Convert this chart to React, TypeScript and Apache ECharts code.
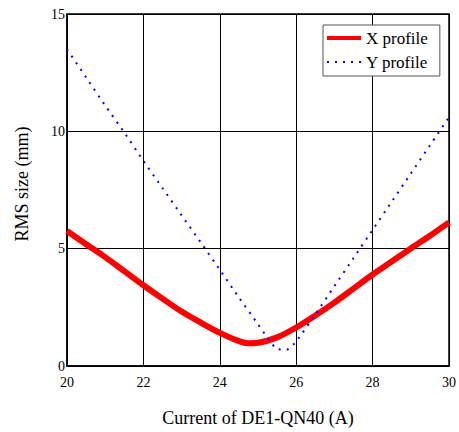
import React, { useEffect, useRef } from "react";
import * as echarts from "echarts";

const xProfileX = [20, 20.5, 21, 21.5, 22, 22.5, 23, 23.5, 24, 24.5, 24.75, 25, 25.5, 26, 26.5, 27, 27.5, 28, 28.5, 29, 29.5, 30];
const xProfileY = [5.75, 5.19, 4.64, 4.04, 3.44, 2.87, 2.32, 1.85, 1.41, 1.06, 0.97, 0.99, 1.22, 1.64, 2.15, 2.7, 3.3, 3.9, 4.45, 5.01, 5.55, 6.12];

const yProfileX = [20, 20.5, 21, 21.5, 22, 22.5, 23, 23.5, 24, 24.5, 25, 25.25, 25.5, 25.75, 26, 26.5, 27, 27.5, 28, 28.5, 29, 29.5, 30];
const yProfileY = [13.5, 12.3, 11.1, 9.95, 8.74, 7.58, 6.42, 5.27, 4.1, 2.92, 1.78, 1.2, 0.72, 0.7, 1.05, 2.2, 3.4, 4.6, 5.8, 7.0, 8.2, 9.4, 10.6];

const seriesNames = ["X profile", "Y profile"];
const xTitle = "Current of DE1-QN40 (A)";
const yTitle = "RMS size (mm)";

const FONT = "Times New Roman, Liberation Serif, serif";

export default function App() {
  const ref = useRef<HTMLDivElement>(null);
  useEffect(() => {
    if (!ref.current) return;
    const chart = echarts.init(ref.current, null, { renderer: "svg" });
    chart.setOption({
      animation: false,
      backgroundColor: "#fff",
      textStyle: { fontFamily: FONT },
      grid: {
        left: 67,
        right: 9,
        top: 14,
        bottom: 62,
        show: true,
        borderColor: "#000",
        borderWidth: 1.5,
        backgroundColor: "transparent",
      },
      legend: {
        left: 323,
        top: 25,
        orient: "vertical",
        backgroundColor: "#fff",
        borderColor: "#555",
        borderWidth: 1,
        padding: [4.5, 12, 5.5, 2],
        itemWidth: 34,
        itemHeight: 14,
        itemGap: 7,
        itemStyle: { opacity: 0 },
        textStyle: { fontFamily: FONT, fontSize: 17, color: "#000" },
        data: [
          { name: seriesNames[0], lineStyle: { width: 4 } },
          { name: seriesNames[1], lineStyle: { width: 2 } },
        ],
      },
      xAxis: {
        type: "value",
        min: 20,
        max: 30,
        interval: 2,
        name: xTitle,
        nameLocation: "middle",
        nameGap: 43,
        nameTextStyle: { fontFamily: FONT, fontSize: 18, color: "#000" },
        axisLine: { show: true, lineStyle: { color: "#000", width: 1.5 } },
        axisTick: { show: false },
        axisLabel: { fontFamily: FONT, fontSize: 14, color: "#000", margin: 9 },
        splitLine: { show: true, lineStyle: { color: "#000", width: 1 } },
      },
      yAxis: {
        type: "value",
        min: 0,
        max: 15,
        interval: 5,
        name: yTitle,
        nameLocation: "middle",
        nameGap: 36,
        nameTextStyle: { fontFamily: FONT, fontSize: 18, color: "#000", padding: [0, 0, 0, 12] },
        axisLine: { show: true, lineStyle: { color: "#000", width: 1.5 } },
        axisTick: { show: false },
        axisLabel: { fontFamily: FONT, fontSize: 14, color: "#000", margin: 2, padding: [5, 0, 0, 0] },
        splitLine: { show: true, lineStyle: { color: "#000", width: 1 } },
      },
      series: [
        {
          name: seriesNames[0],
          type: "line",
          data: xProfileX.map((x, i) => [x, xProfileY[i]]),
          smooth: 0.3,
          showSymbol: false,
          symbol: "none",
          lineStyle: { color: "#ff0000", width: 6 },
          itemStyle: { color: "#ff0000" },
          z: 3,
        },
        {
          name: seriesNames[1],
          type: "line",
          data: yProfileX.map((x, i) => [x, yProfileY[i]]),
          smooth: 0.2,
          showSymbol: false,
          symbol: "none",
          lineStyle: { color: "#0000ff", width: 2, type: [2, 6], cap: "butt" },
          itemStyle: { color: "#0000ff" },
          z: 4,
        },
      ],
    });
    return () => chart.dispose();
  }, []);
  return (
    <div
      ref={ref}
      style={{ position: "fixed", left: 0, top: 0, width: 459, height: 432 }}
    />
  );
}
